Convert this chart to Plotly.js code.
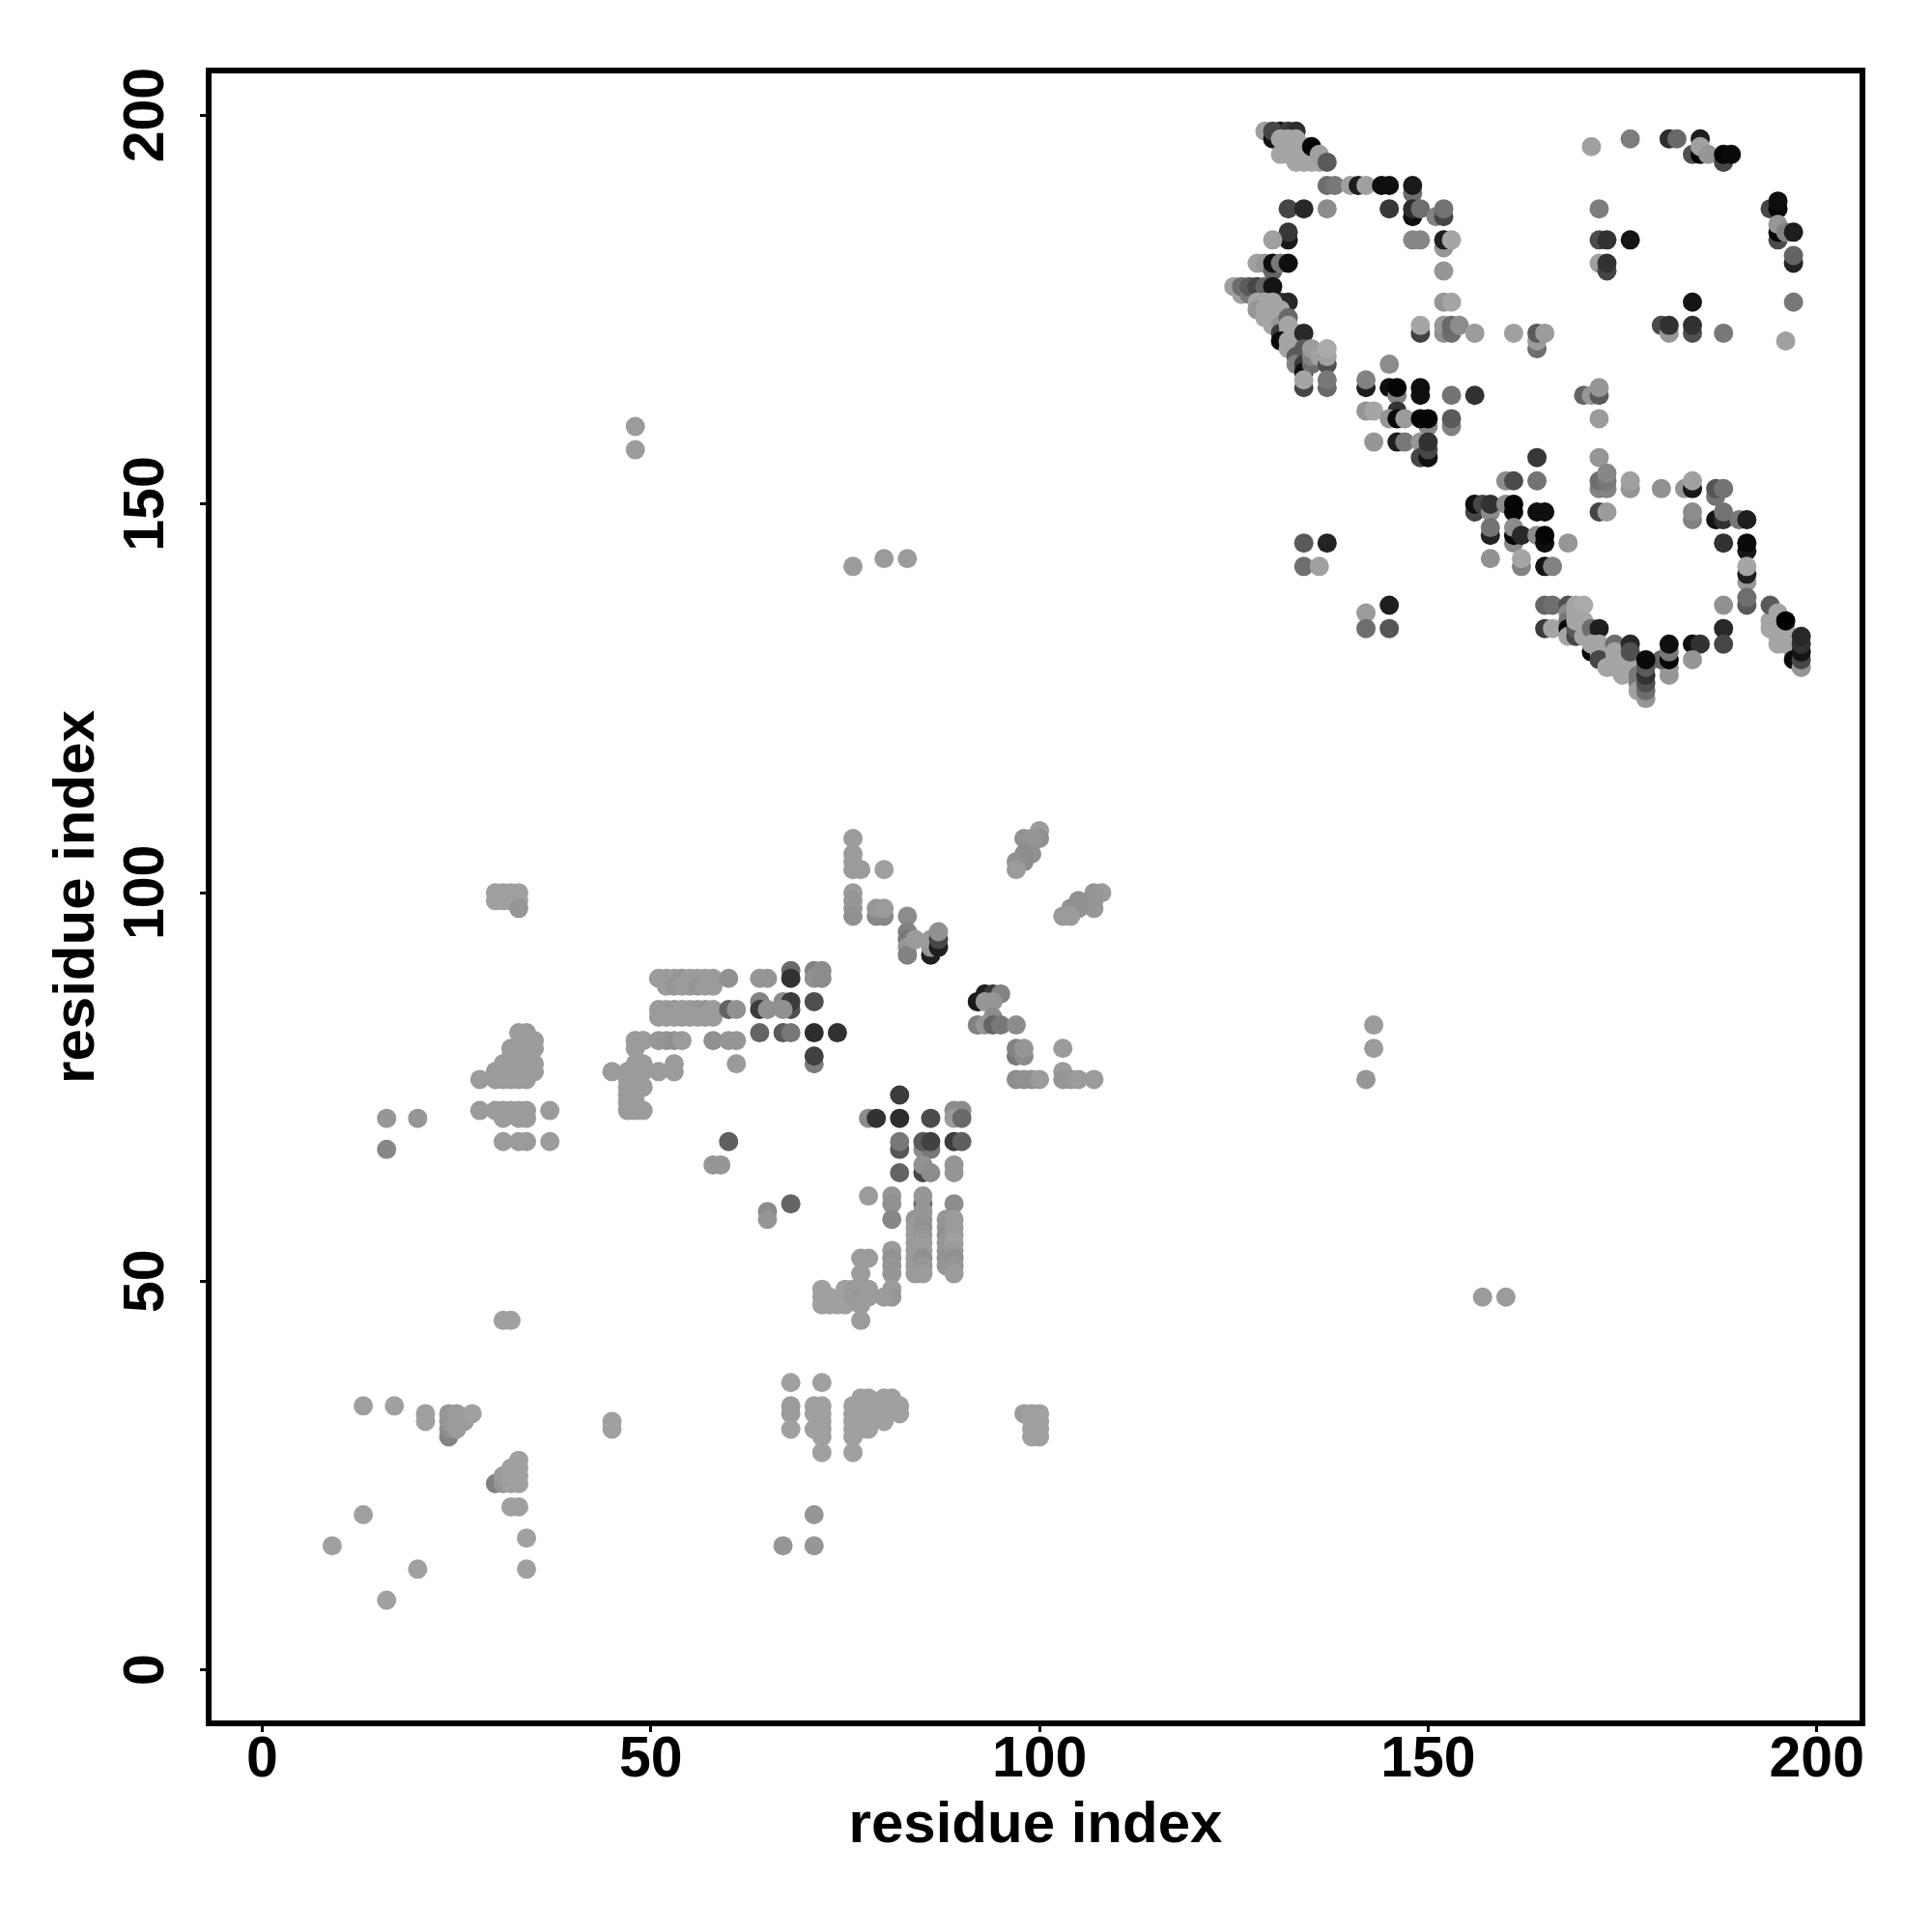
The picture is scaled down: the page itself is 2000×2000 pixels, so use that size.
<!DOCTYPE html>
<html><head><meta charset="utf-8"><script src="https://cdn.plot.ly/plotly-3.0.1.min.js"></script>
<style>html,body{margin:0;background:#fff}</style></head><body><div id="chart" style="width:2000px;height:2000px"></div>
<script>
// each contact: [residue i, residue j, gray shade]
const tickValues=[0,50,100,150,200];
const axisTitle="residue index";
const lowerFar=[[9,16,160],[16,9,160],[13,20,160],[20,13,160],[13,34,160],[17,34,160],[21,33,160],[21,32,160],
[24,30,130],[24,31,140],[24,32,150],[24,33,150],[25,31,155],[25,32,155],[25,33,155],[26,32,155],[27,33,160],
[30,24,130],[31,24,150],[32,24,160],[33,24,160],[31,25,155],[32,25,160],[33,25,160],[32,26,160],[33,26,160],[33,27,160],
[32,21,160],[33,21,160],[34,17,160],[34,13,160],[45,32,160],[45,31,160],[31,45,160],[32,45,160],
[68,37,160],[72,37,160],[68,34,155],[68,33,155],[68,31,160],[71,34,160],[72,34,160],[71,33,160],[72,33,160],[72,32,160],[71,31,160],[72,31,160],[72,30,160],[72,28,160],
[76,34,160],[76,33,160],[76,32,160],[76,31,160],[76,30,160],[76,28,160],[77,35,160],[78,35,160],[77,34,160],[77,33,160],[77,32,160],[77,31,160],[78,34,160],[78,33,160],[78,32,160],[78,31,160],[80,35,160],[81,35,160],[80,34,160],[80,33,160],[80,32,160],[81,34,160],[82,34,160],[82,33,160],
[98,33,155],[99,33,160],[100,33,160],[99,32,160],[100,32,160],[99,31,160],[100,31,160],[99,30,160],[100,30,160],
[67,16,150],[71,16,150],[71,20,150]];
const lowerLeft=[[30,100,160],[31,100,160],[32,100,160],[33,100,160],[30,99,160],[31,99,160],[32,99,160],[33,99,160],[33,98,150],
[33,82,155],[34,82,155],[34,81,155],[35,81,155],[32,80,155],[33,80,155],[34,80,155],[35,80,155],[32,79,155],[33,79,155],[34,79,155],[31,78,155],[32,78,155],[33,78,155],[34,78,155],[35,78,155],[30,77,155],[31,77,155],[32,77,155],[33,77,155],[34,77,155],[35,77,155],[28,76,155],[30,76,155],[31,76,155],[32,76,155],[33,76,155],[34,76,155],
[28,72,155],[30,72,155],[31,72,155],[32,72,155],[33,72,155],[34,72,155],[37,72,155],[31,71,155],[33,71,155],[34,71,155],[31,68,155],[33,68,155],[34,68,155],[37,68,155],
[16,71,150],[20,71,150],[16,67,135],
[45,77,155],[47,77,155],[48,77,155],[49,77,155],[48,81,155],[49,81,155],[48,80,155],[48,78,155],[49,78,155],[47,76,155],[48,76,155],[47,75,155],[48,75,155],[49,75,155],[47,74,155],[48,74,155],[47,73,155],[48,73,155],[47,72,155],[48,72,155],[49,72,155],[51,77,155],[53,78,155],[53,77,155]];
const lowerMiddle=[[51,89,155],[52,89,155],[53,89,155],[54,89,150],[55,89,155],[56,89,155],[57,89,155],[58,89,155],[52,88,155],[53,88,150],[54,88,155],[55,88,155],[56,88,150],[57,88,155],[58,88,155],[60,89,145],
[51,85,155],[52,85,155],[53,85,150],[54,85,155],[55,85,155],[56,85,150],[57,85,150],[58,85,155],[51,84,155],[52,84,155],[53,84,155],[54,84,155],[55,84,155],[56,84,155],[57,84,155],[58,84,155],[60,85,100],[61,85,145],
[48,81,155],[49,81,155],[51,81,150],[52,81,150],[53,81,145],[54,81,155],[58,81,145],[60,81,150],[61,81,150],[61,78,155],
[64,89,150],[65,89,150],[68,90,105],[68,89,50],[71,90,130],[72,90,140],[71,89,145],[72,89,140],
[64,86,130],[64,85,60],[65,85,145],[67,86,140],[68,85,80],[68,86,60],[67,85,145],[71,86,80],
[64,82,100],[67,82,90],[68,82,120],[71,82,45],[74,82,50],[71,78,125],[71,79,65],
[60,68,95],[58,65,150],[59,65,150],[68,60,100],[65,59,140],[65,58,150]];
const lowerRight=[[82,74,60],[78,71,140],[79,71,50],[82,71,45],[86,71,75],[89,72,140],[90,72,140],[89,71,155],[90,71,105],
[82,67,85],[82,68,120],[85,67,140],[86,67,120],[85,68,90],[86,68,65],[89,68,60],[90,68,95],
[85,64,70],[82,64,100],[85,65,145],[86,64,140],[89,65,150],[89,64,150],
[78,61,155],[81,61,150],[81,60,145],[81,58,135],[85,60,110],[85,61,150],[85,59,150],[89,60,140],
[84,58,150],[84,57,155],[84,56,155],[84,55,155],[84,54,155],[84,53,155],[84,52,155],[84,51,155],[85,58,150],[85,57,145],[85,56,150],[85,55,155],[85,54,155],[85,53,145],[85,52,150],[85,51,155],
[88,58,150],[88,57,150],[88,56,145],[88,55,150],[88,54,150],[88,53,145],[88,52,150],[89,58,155],[89,57,155],[89,56,155],[89,55,160],[89,54,155],[89,53,145],[89,52,150],[89,51,155],
[81,54,155],[81,53,145],[81,52,150],[81,51,150],[81,49,155],[81,48,150],[80,48,155],[77,53,155],[78,53,155],[77,51,155],[77,49,155],[72,49,160],[72,48,160],[72,47,160],[73,48,160],[73,47,160],[74,47,160],[75,49,160],[75,48,160],[75,47,160],[76,49,155],[76,48,155],[77,48,150],[77,47,155],[78,49,155],[78,48,155],[77,45,155],
[76,107,155],[76,105,155],[76,104,155],[76,103,155],[77,103,155],[80,103,160],[76,100,155],[76,99,150],[76,98,150],[76,97,145],[79,97,135],[80,97,135],[79,98,150],[80,98,155],
[83,97,140],[83,95,130],[83,94,120],[83,93,150],[83,92,130],[84,94,155],[86,92,30],[86,93,150],[86,94,155],[87,93,30],[87,94,70],[87,95,145]];
const lowerOuter=[[100,108,155],[100,107,145],[98,107,145],[99,107,150],[99,105,145],[98,105,140],[98,104,140],[97,104,145],[97,103,155],
[108,100,155],[107,100,150],[107,99,150],[107,98,150],[105,99,145],[104,98,145],[105,98,145],[103,97,155],[104,97,155],
[92,86,25],[93,87,30],[94,87,55],[95,87,130],[93,86,150],[94,86,150],[94,84,140],[92,83,130],[93,83,150],[94,83,100],[95,83,120],[97,83,140],
[97,79,120],[97,80,130],[98,79,140],[98,80,150],[103,80,155],[97,76,140],[98,76,145],[99,76,145],[100,76,155],[103,77,155],[103,76,150],[104,76,150],[105,76,155],[107,76,155],
[48,160,155],[48,157,155],[76,142,155],[80,143,155],[83,143,155],[142,76,150],[143,80,155],[143,83,155],[157,48,155],[160,48,155]];
const upperTop=[[129,198,160],[130,197,20],[131,198,25],[130,198,70],[132,198,60],[133,198,45],
[131,197,165],[132,197,165],[133,197,165],[132,196,165],[133,196,165],[134,196,165],[131,195,165],[132,195,165],[133,195,165],[134,195,165],[135,195,165],[133,194,165],[134,194,165],[135,194,165],[136,194,165],[135,196,5],[136,195,160],[137,194,90],
[137,191,110],[138,191,120],[140,191,160],[141,191,30],[142,191,160],[144,191,15],[145,191,15],[148,190,110],[148,191,25],
[132,188,70],[134,188,40],[137,188,140],[145,188,55],[148,187,15],[148,188,45],[149,188,110],[151,187,130],[152,187,70],[152,188,115],
[132,184,25],[132,185,55],[130,184,160],[148,184,135],[149,184,135],[152,183,150],[152,184,30],[153,184,165],[152,180,150],[128,181,160],[129,181,150],[130,180,100],[130,181,15],[131,181,120],[132,181,15],
[125,178,160],[126,177,160],[126,178,110],[127,177,120],[127,178,90],[128,178,70],[129,178,100],[130,178,20],
[131,176,45],[132,176,40],[152,176,150],[153,176,165]];
const upperLeft=[[128,176,165],[129,176,165],[130,176,165],[128,175,150],[129,175,165],[130,175,165],[131,175,165],[129,174,165],[130,174,165],[131,174,165],[130,173,165],[131,173,150],[132,174,105],[131,172,60],
[132,173,165],[132,172,165],[131,171,10],[132,171,165],[133,172,165],[133,171,165],[132,170,165],[133,170,165],[134,172,40],
[133,169,90],[133,168,130],[134,170,90],[134,168,60],[134,167,15],[135,168,110],[135,169,130],[135,170,155],[136,169,160],[137,168,80],[137,169,160],[137,170,170],
[134,165,70],[134,166,165],[137,165,105],[137,166,120],
[149,172,65],[149,173,165],[152,172,145],[152,173,150],[153,172,110],[153,173,105],[154,173,140],[156,172,155],[161,172,160],[164,170,110],[164,171,155],[164,172,90],[165,172,155],
[142,165,30],[142,166,130],[145,168,140],[145,165,15],[146,164,130],[146,165,5],[149,164,15],[149,165,15],[153,164,115],[156,164,50],
[142,162,150],[143,162,165],[146,162,50],[145,161,150],[146,161,10],[147,161,155],[150,160,135],[149,161,5],[150,161,5],[153,160,130],[153,161,90],
[143,158,150],[146,158,30],[147,158,120],[149,158,150],[149,156,70],[150,156,15],[150,157,70],[150,158,50],[164,156,55],[160,153,140],[161,153,75],[164,153,115]];
const upperRight=[[171,196,160],[176,197,125],[181,197,45],[182,197,105],[185,197,30],[184,195,80],[185,195,5],[185,196,160],[186,195,150],[188,194,70],[188,195,5],[189,195,10],
[172,188,125],[172,184,75],[173,184,50],[176,184,20],[172,181,160],[173,180,70],[173,181,50],
[194,188,70],[195,188,5],[195,189,15],[195,184,75],[195,185,5],[195,186,150],[196,185,130],[197,185,30],[197,181,35],[197,182,100],[197,176,120],[196,171,160],
[184,176,20],[180,173,75],[181,172,150],[181,173,50],[184,172,80],[184,173,50],[188,172,120],
[170,164,100],[171,164,150],[172,164,90],[172,165,150],[172,161,155]];
const upperLower=[[156,149,70],[156,150,15],[157,150,70],[158,149,140],[158,150,50],[160,150,140],[161,149,5],[161,150,5],[164,149,15],[165,149,15],
[158,146,35],[158,147,115],[161,145,140],[161,146,5],[161,147,140],[162,146,40],[164,146,140],[165,145,15],[165,146,5],[168,145,150],
[158,143,145],[162,142,130],[162,143,165],[165,142,20],[166,142,130],
[134,145,90],[137,145,35],[134,142,110],[136,142,160],[145,137,30],[142,136,155],[142,134,110],[145,134,85],
[172,156,150],[172,152,130],[173,152,130],[172,153,110],[173,153,120],[173,154,135],[176,152,150],[176,153,160],[180,152,145],[183,152,150],[184,152,25],[184,153,160],[187,151,115],[187,152,85],[188,152,115],
[172,149,70],[173,149,155],[184,148,130],[184,149,140],[187,148,20],[188,148,50],[188,149,115],[190,148,120],[191,148,30],[188,145,50],[191,144,25],[191,145,10],
[191,140,150],[191,141,30],[191,142,165],[191,137,90],[191,138,110],[188,137,145],[188,134,40],[188,132,70],[184,132,15],[185,132,50],[181,128,150],[181,129,150],[180,130,100],[181,130,5],[181,131,120],[181,132,15],[184,130,150]];
const upperCorners=[[194,135,165],[194,134,165],[195,135,165],[195,134,165],[195,133,165],[195,132,165],[196,134,165],[196,133,165],[196,132,165],[197,132,165],[197,131,165],[194,137,90],[195,136,165],[196,135,0],[197,130,10],
[198,129,150],[198,130,70],[198,131,20],[198,132,50],[198,133,40],
[165,137,100],[166,137,110],[165,134,60],[166,134,165],[168,137,80],[168,136,140],[168,135,120],[168,134,10],[168,133,165],[169,133,70],[169,134,90],[169,135,165],[169,136,165],[169,137,165],[170,137,170],[170,135,165],[170,133,165],
[171,134,110],[172,134,30],[171,131,5],[171,132,165],[172,132,165],[172,131,165],[172,130,70],[173,129,165],[174,132,110],[174,131,165],[174,130,165],[174,129,165],[175,130,165],[175,129,165],[175,128,165],[176,130,165],[176,129,165],[176,132,40],[176,131,80],
[177,128,120],[177,127,120],[177,126,160],[178,125,150],[178,126,110],[178,127,80],[178,128,50],[178,129,90],[178,130,10]];
const contacts=[].concat(lowerFar,lowerLeft,lowerMiddle,lowerRight,lowerOuter,upperTop,upperLeft,upperRight,upperLower,upperCorners);
const tickFont={family:'"Liberation Sans",Arial,sans-serif',size:59,color:'#000',weight:700};
const titleFont={family:'"Liberation Sans",Arial,sans-serif',size:60,color:'#000',weight:700};
const axisCommon={tickmode:'array',tickvals:tickValues,ticks:'outside',ticklen:6,tickwidth:3,tickcolor:'#000',
 showline:true,mirror:true,linecolor:'#000',linewidth:6,showgrid:false,zeroline:false,tickfont:tickFont};
Plotly.newPlot('chart',[{type:'scatter',mode:'markers',x:contacts.map(c=>c[0]),y:contacts.map(c=>c[1]),
 marker:{size:20,color:contacts.map(c=>c[2]),cmin:0,cmax:255,colorscale:[[0,'#000'],[1,'#fff']],showscale:false,line:{width:0}},hoverinfo:'x+y'}],
 {width:2000,height:2000,paper_bgcolor:'#fff',plot_bgcolor:'#fff',showlegend:false,
  margin:{l:218.5,r:75,t:76,b:219,autoexpand:false},
  xaxis:Object.assign({},axisCommon,{range:[-6.52,205.5],ticktext:tickValues.map(String),ticklabelstandoff:-25,title:{text:axisTitle,font:titleFont,standoff:16}}),
  yaxis:Object.assign({},axisCommon,{range:[-6.47,205.42],tickangle:-90,ticktext:tickValues.map(v=>v+'\u2009\u200a'),ticklabelstandoff:14,title:{text:axisTitle,font:titleFont,standoff:1}})
 },{displayModeBar:false});
</script></body></html>
